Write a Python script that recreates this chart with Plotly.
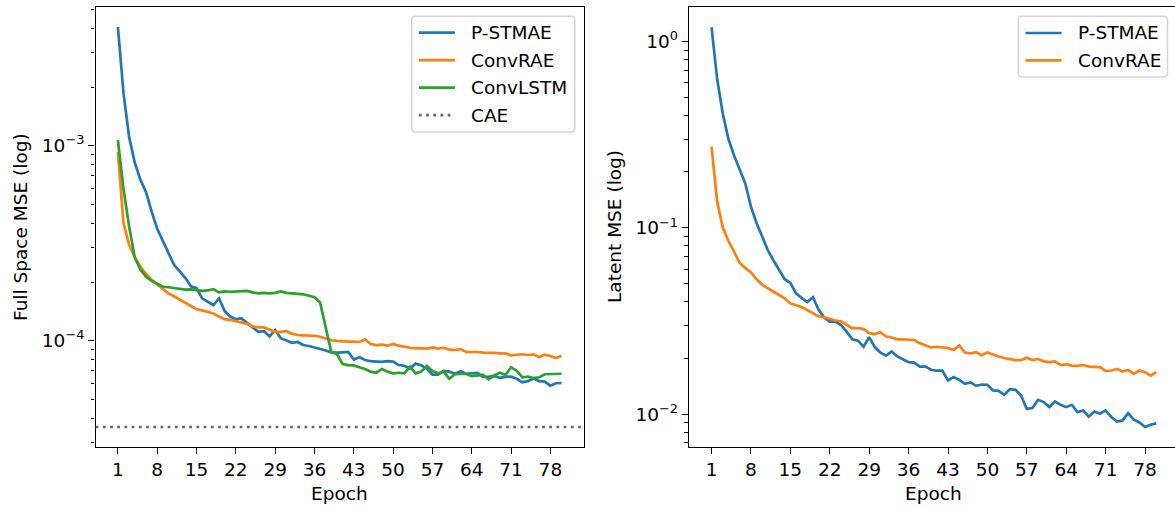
import plotly.graph_objects as go

# ---------------------------------------------------------------- data
epochs = list(range(1, 81))
x_tick_vals = [1, 8, 15, 22, 29, 36, 43, 50, 57, 64, 71, 78]

# Full-space reconstruction MSE per epoch
pstmae_full = [
    4.07e-3, 1.86e-3, 1.11e-3, 8.2e-4, 6.7e-4, 5.8e-4, 4.6e-4, 3.75e-4, 3.25e-4, 2.8e-4,
    2.45e-4, 2.27e-4, 2.1e-4, 1.9e-4, 1.86e-4, 1.65e-4, 1.58e-4, 1.52e-4, 1.65e-4, 1.42e-4,
    1.33e-4, 1.29e-4, 1.30e-4, 1.24e-4, 1.17e-4, 1.11e-4, 1.12e-4, 1.05e-4, 1.135e-4, 1.03e-4,
    1.0e-4, 9.75e-5, 9.85e-5, 9.5e-5, 9.4e-5, 9.25e-5, 9.1e-5, 8.9e-5, 8.72e-5, 8.68e-5,
    8.72e-5, 8.77e-5, 8.0e-5, 8.22e-5, 7.96e-5, 7.85e-5, 7.82e-5, 7.78e-5, 7.85e-5, 7.82e-5,
    7.5e-5, 7.44e-5, 7.2e-5, 7.63e-5, 7.48e-5, 7.2e-5, 6.7e-5, 6.7e-5, 7.0e-5, 6.94e-5,
    6.77e-5, 6.97e-5, 6.77e-5, 6.78e-5, 6.83e-5, 6.54e-5, 6.52e-5, 6.6e-5, 6.45e-5, 6.52e-5,
    6.54e-5, 6.38e-5, 6.12e-5, 6.2e-5, 6.4e-5, 6.2e-5, 6.17e-5, 5.88e-5, 6.05e-5, 6.07e-5,
]
convrae_full = [
    9.3e-4, 4.0e-4, 3.1e-4, 2.68e-4, 2.4e-4, 2.2e-4, 2.05e-4, 1.95e-4, 1.84e-4, 1.75e-4,
    1.69e-4, 1.63e-4, 1.57e-4, 1.51e-4, 1.45e-4, 1.43e-4, 1.41e-4, 1.38e-4, 1.33e-4, 1.29e-4,
    1.28e-4, 1.26e-4, 1.25e-4, 1.22e-4, 1.185e-4, 1.17e-4, 1.17e-4, 1.14e-4, 1.11e-4, 1.11e-4,
    1.12e-4, 1.086e-4, 1.07e-4, 1.066e-4, 1.066e-4, 1.06e-4, 1.048e-4, 1.024e-4, 1.005e-4, 9.97e-5,
    9.9e-5, 9.9e-5, 9.89e-5, 9.85e-5, 1.017e-4, 9.62e-5, 9.5e-5, 9.55e-5, 9.43e-5, 9.62e-5,
    9.43e-5, 9.31e-5, 9.2e-5, 9.17e-5, 9.14e-5, 9.1e-5, 9.24e-5, 9.1e-5, 9.2e-5, 9.0e-5,
    8.96e-5, 9.06e-5, 8.75e-5, 8.78e-5, 8.75e-5, 8.68e-5, 8.7e-5, 8.66e-5, 8.61e-5, 8.61e-5,
    8.42e-5, 8.45e-5, 8.52e-5, 8.45e-5, 8.5e-5, 8.25e-5, 8.48e-5, 8.35e-5, 8.15e-5, 8.38e-5,
]
convlstm_full = [
    1.07e-3, 6.0e-4, 3.85e-4, 2.68e-4, 2.32e-4, 2.13e-4, 2.03e-4, 1.95e-4, 1.89e-4, 1.88e-4,
    1.86e-4, 1.835e-4, 1.83e-4, 1.835e-4, 1.82e-4, 1.8e-4, 1.81e-4, 1.84e-4, 1.77e-4, 1.79e-4,
    1.78e-4, 1.79e-4, 1.79e-4, 1.8e-4, 1.77e-4, 1.75e-4, 1.76e-4, 1.75e-4, 1.76e-4, 1.79e-4,
    1.76e-4, 1.75e-4, 1.75e-4, 1.73e-4, 1.7e-4, 1.67e-4, 1.57e-4, 1.17e-4, 8.72e-5, 8.55e-5,
    7.6e-5, 7.5e-5, 7.47e-5, 7.31e-5, 7.16e-5, 6.94e-5, 6.85e-5, 7.16e-5, 6.94e-5, 6.8e-5,
    6.85e-5, 6.8e-5, 7.36e-5, 6.8e-5, 6.94e-5, 7.42e-5, 7.0e-5, 6.8e-5, 6.94e-5, 6.38e-5,
    6.73e-5, 6.75e-5, 6.75e-5, 6.59e-5, 6.64e-5, 6.67e-5, 6.34e-5, 6.64e-5, 6.85e-5, 6.67e-5,
    7.31e-5, 7.02e-5, 6.49e-5, 6.54e-5, 6.43e-5, 6.49e-5, 6.73e-5, 6.73e-5, 6.75e-5, 6.77e-5,
]
cae_full = 3.61e-5

# Latent-space MSE per epoch
pstmae_latent = [
    1.195, 0.63, 0.41, 0.30, 0.245, 0.205, 0.173, 0.13, 0.106, 0.09,
    0.0758, 0.0668, 0.0598, 0.053, 0.0506, 0.0445, 0.0421, 0.04, 0.0424, 0.0364,
    0.0330, 0.0314, 0.0314, 0.0301, 0.0277, 0.0252, 0.0248, 0.0230, 0.0259, 0.0229,
    0.0214, 0.0206, 0.0217, 0.0204, 0.0197, 0.0190, 0.0189, 0.0180, 0.0180, 0.0173,
    0.0171, 0.0171, 0.01515, 0.0158, 0.01527, 0.01454, 0.0148, 0.01419, 0.01442, 0.01436,
    0.0134, 0.01334, 0.0127, 0.01362, 0.0135, 0.01254, 0.01066, 0.01077, 0.01193, 0.0116,
    0.0109, 0.0117, 0.01122, 0.0109, 0.01122, 0.01025, 0.01045, 0.0097, 0.01033, 0.01004,
    0.01046, 0.00964, 0.00913, 0.00925, 0.01012, 0.00933, 0.00902, 0.00852, 0.00877, 0.00891,
]
convrae_latent = [
    0.273, 0.138, 0.1005, 0.085, 0.0745, 0.0648, 0.061, 0.0576, 0.053, 0.0496,
    0.0474, 0.0453, 0.0436, 0.0418, 0.0393, 0.0385, 0.0376, 0.0362, 0.0347, 0.0335,
    0.0331, 0.0323, 0.0318, 0.0315, 0.0301, 0.0289, 0.029, 0.0286, 0.0272, 0.0269,
    0.0275, 0.0261, 0.0258, 0.0252, 0.0252, 0.0252, 0.025, 0.024, 0.0233, 0.0228,
    0.023, 0.0228, 0.0226, 0.0221, 0.0234, 0.0214, 0.0212, 0.0215, 0.0207, 0.0214,
    0.0208, 0.0204, 0.0200, 0.0197, 0.0195, 0.0195, 0.0201, 0.0195, 0.0198, 0.0192,
    0.019, 0.0192, 0.01835, 0.01852, 0.01823, 0.01816, 0.01835, 0.018, 0.018, 0.01786,
    0.01706, 0.01714, 0.0175, 0.01694, 0.01728, 0.01644, 0.01714, 0.0168, 0.0161, 0.0168,
]

full_series = [
    ("P-STMAE", pstmae_full, "#1f77b4"),
    ("ConvRAE", convrae_full, "#ff7f0e"),
    ("ConvLSTM", convlstm_full, "#2ca02c"),
]
latent_series = [
    ("P-STMAE", pstmae_latent, "#1f77b4"),
    ("ConvRAE", convrae_latent, "#ff7f0e"),
]
cae_label = "CAE"
cae_color = "#666666"

full_major = [1e-4, 1e-3]
full_major_text = ["10<sup>\u22124</sup>", "10<sup>\u22123</sup>"]
full_minor = [3e-5, 4e-5, 5e-5, 6e-5, 7e-5, 8e-5, 9e-5,
              2e-4, 3e-4, 4e-4, 5e-4, 6e-4, 7e-4, 8e-4, 9e-4,
              2e-3, 3e-3, 4e-3, 5e-3]
latent_major = [1e-2, 1e-1, 1.0]
latent_major_text = ["10<sup>\u22122</sup>", "10<sup>\u22121</sup>", "10<sup>0</sup>"]
latent_minor = [7e-3, 8e-3, 9e-3,
                2e-2, 3e-2, 4e-2, 5e-2, 6e-2, 7e-2, 8e-2, 9e-2,
                0.2, 0.3, 0.4, 0.5, 0.6, 0.7, 0.8, 0.9]

# ---------------------------------------------------------------- style
W, H = 1175, 509
FONT = "DejaVu Sans"
FS = 18.5
LW = 2.7
AXW = 1.45


def px(x):
    return x / W


def py(y):
    return 1 - y / H


fig = go.Figure()

for name, vals, col in full_series:
    fig.add_trace(go.Scatter(x=epochs, y=vals, mode="lines", name=name,
                             line=dict(color=col, width=LW),
                             xaxis="x", yaxis="y", showlegend=False))
for name, vals, col in latent_series:
    fig.add_trace(go.Scatter(x=epochs, y=vals, mode="lines", name=name,
                             line=dict(color=col, width=LW),
                             xaxis="x2", yaxis="y2", showlegend=False))

dotted = "2.7px,4.5px"
shapes = [dict(type="line", xref="x domain", x0=0, x1=1, yref="y",
               y0=cae_full, y1=cae_full, layer="above",
               line=dict(color=cae_color, width=LW, dash=dotted))]
annotations = []


def rounded_box(x0, y0, x1, y1, r):
    rx, ry = r / W, r / H
    X0, X1 = px(x0), px(x1)
    Y0, Y1 = py(y0), py(y1)  # Y0 top, Y1 bottom
    return (f"M {X0+rx},{Y0} L {X1-rx},{Y0} Q {X1},{Y0} {X1},{Y0-ry} "
            f"L {X1},{Y1+ry} Q {X1},{Y1} {X1-rx},{Y1} "
            f"L {X0+rx},{Y1} Q {X0},{Y1} {X0},{Y1+ry} "
            f"L {X0},{Y0-ry} Q {X0},{Y0} {X0+rx},{Y0} Z")


def legend(entries, box, first_row, row_gap):
    x0, y0, x1, y1 = box
    shapes.append(dict(type="path", xref="paper", yref="paper",
                       path=rounded_box(x0, y0, x1, y1, 3.7),
                       fillcolor="rgba(255,255,255,0.8)",
                       line=dict(color="rgba(204,204,204,0.8)", width=1.5),
                       layer="above"))
    for i, (label, col, dash) in enumerate(entries):
        yy = first_row + i * row_gap
        shapes.append(dict(type="line", xref="paper", yref="paper",
                           x0=px(x0 + 7.2), x1=px(x0 + 43.2), y0=py(yy), y1=py(yy),
                           line=dict(color=col, width=LW, dash=dash), layer="above"))
        annotations.append(dict(text=label, xref="paper", yref="paper",
                                x=px(x0 + 57.6), y=py(yy), xanchor="left",
                                yanchor="middle", showarrow=False,
                                font=dict(family=FONT, size=FS, color="black")))


legend([(n, c, "solid") for n, _, c in full_series] + [(cae_label, cae_color, dotted)],
       (411.7, 16.3, 574.8, 132.0), 32.7, 27.45)
legend([(n, c, "solid") for n, _, c in latent_series],
       (1018.3, 16.3, 1167.5, 77.0), 33.0, 27.45)

# axis titles
for text, x, y, ang in [("Full Space MSE (log)", 20, 227, -90),
                        ("Latent MSE (log)", 614, 227, -90),
                        ("Epoch", 339.7, 493, 0),
                        ("Epoch", 933.2, 493, 0)]:
    annotations.append(dict(text=text, xref="paper", yref="paper", x=px(x), y=py(y),
                            xanchor="center", yanchor="middle", textangle=ang,
                            showarrow=False, font=dict(family=FONT, size=FS, color="black")))

common_x = dict(tickmode="array", tickvals=x_tick_vals, ticks="outside", ticklen=6.3,
                tickwidth=AXW, tickcolor="black", showline=True, linewidth=AXW,
                linecolor="black", mirror=True, showgrid=False, zeroline=False,
                tickfont=dict(family=FONT, size=FS, color="black"))


def y_axis(major, text, minor, rng, anchor, mirror):
    return dict(type="log", range=rng, tickmode="array", tickvals=major, ticktext=text,
                ticks="outside", ticklen=6.3, tickwidth=AXW, tickcolor="black",
                minor=dict(tickmode="array", tickvals=minor, ticks="outside",
                           ticklen=3.6, tickwidth=1.08, tickcolor="black", showgrid=False),
                showline=True, linewidth=AXW, linecolor="black", mirror=mirror,
                showgrid=False, zeroline=False, anchor=anchor,
                domain=[py(446.5), py(7.3)],
                tickfont=dict(family=FONT, size=FS, color="black"))


fig.update_layout(
    width=W, height=H, margin=dict(l=0, r=0, t=0, b=0),
    paper_bgcolor="white", plot_bgcolor="white",
    font=dict(family=FONT, size=FS, color="black"),
    showlegend=False,
    xaxis=dict(common_x, domain=[px(95.7), px(583.8)], range=[-2.95, 83.95], anchor="y"),
    yaxis=y_axis(full_major, full_major_text, full_minor, [-4.5426, -2.290], "x", True),
    xaxis2=dict(common_x, domain=[px(689.3), 1.0], range=[-2.95, 83.32], anchor="y2"),
    yaxis2=y_axis(latent_major, latent_major_text, latent_minor, [-2.174, 0.1846], "x2", False),
    shapes=shapes,
    annotations=annotations,
)

fig.write_html("out.html")
